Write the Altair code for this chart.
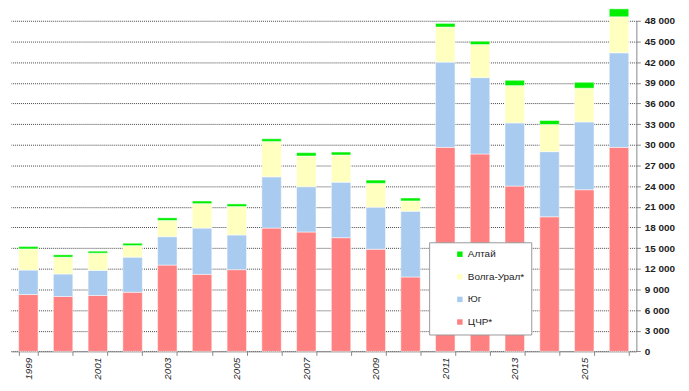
import altair as alt
import pandas as pd

years = list(range(1999, 2017))
series_names = ["Алтай", "Волга-Урал*", "Юг", "ЦЧР*"]
chr_vals = [8250, 7970, 8110, 8590, 12530, 11180, 11860, 17900, 17330, 16510, 14830, 10800, 29620, 28660, 24000, 19540, 23470, 29620]
yug_vals = [3550, 3260, 3650, 5090, 4130, 6720, 5040, 7440, 6580, 8060, 6100, 9550, 12380, 11090, 9170, 9460, 9840, 13730]
volga_vals = [3070, 2450, 2500, 1680, 2350, 3550, 4130, 5140, 4460, 3940, 3460, 1490, 5090, 4800, 5420, 3940, 4900, 5230]
altai_vals = [340, 340, 290, 340, 380, 380, 380, 380, 480, 430, 480, 430, 530, 480, 770, 580, 860, 1150]
colors = ["#00EE00", "#FFFFC0", "#A9CBEF", "#FF8080"]
y_ticks = list(range(0, 48001, 3000))

rows = []
for name, vals, order in [("ЦЧР*", chr_vals, 0), ("Юг", yug_vals, 1), ("Волга-Урал*", volga_vals, 2), ("Алтай", altai_vals, 3)]:
    for yr, v in zip(years, vals):
        rows.append({"year": yr, "region": name, "value": v, "ord": order})
df = pd.DataFrame(rows)

chart = alt.Chart(df).mark_bar(stroke="white", strokeWidth=0.5).encode(
    x=alt.X("year:O", title=None,
            scale=alt.Scale(paddingInner=0.44, paddingOuter=0.22),
            axis=alt.Axis(tickBand="extent", labelAngle=-90, tickSize=4, labelPadding=2,
                          labelExpr="datum.value % 2 == 1 ? datum.label : ''",
                          labelFont="Liberation Sans", labelFontSize=10, labelFontStyle="italic",
                          labelColor="#222", domainColor="#888", tickColor="#888", grid=False)),
    y=alt.Y("value:Q", stack="zero", title=None,
            scale=alt.Scale(domain=[0, 48000], nice=False),
            axis=alt.Axis(orient="right", values=y_ticks, grid=True, gridDash=[1, 1], gridColor="#444",
                          gridWidth=1, domainColor="#888", tickColor="#888", tickSize=4, labelPadding=4,
                          labelExpr="replace(format(datum.value, ',d'), ',', ' ')",
                          labelFont="Liberation Sans", labelFontSize=10, labelFontWeight="bold",
                          labelColor="#222")),
    color=alt.Color("region:N", scale=alt.Scale(domain=series_names, range=colors),
                    legend=alt.Legend(title=None, orient="none", legendX=421.7, legendY=223.4,
                                      fillColor="white", strokeColor="#999", padding=7,
                                      symbolOffset=19, rowPadding=12.8, symbolType="square",
                                      symbolSize=30, symbolStrokeWidth=0, labelOffset=3,
                                      labelFont="Liberation Sans", labelFontSize=10, labelColor="#222")),
    order=alt.Order("ord:Q", sort="ascending"),
).properties(
    width=630.7, height=333.4,
    autosize=alt.AutoSizeParams(type="none"),
    padding={"left": 3, "top": 11.3, "right": 45, "bottom": 30},
).configure_view(stroke=None)

chart.save("out.html", embed_options={"renderer": "svg", "actions": False})
